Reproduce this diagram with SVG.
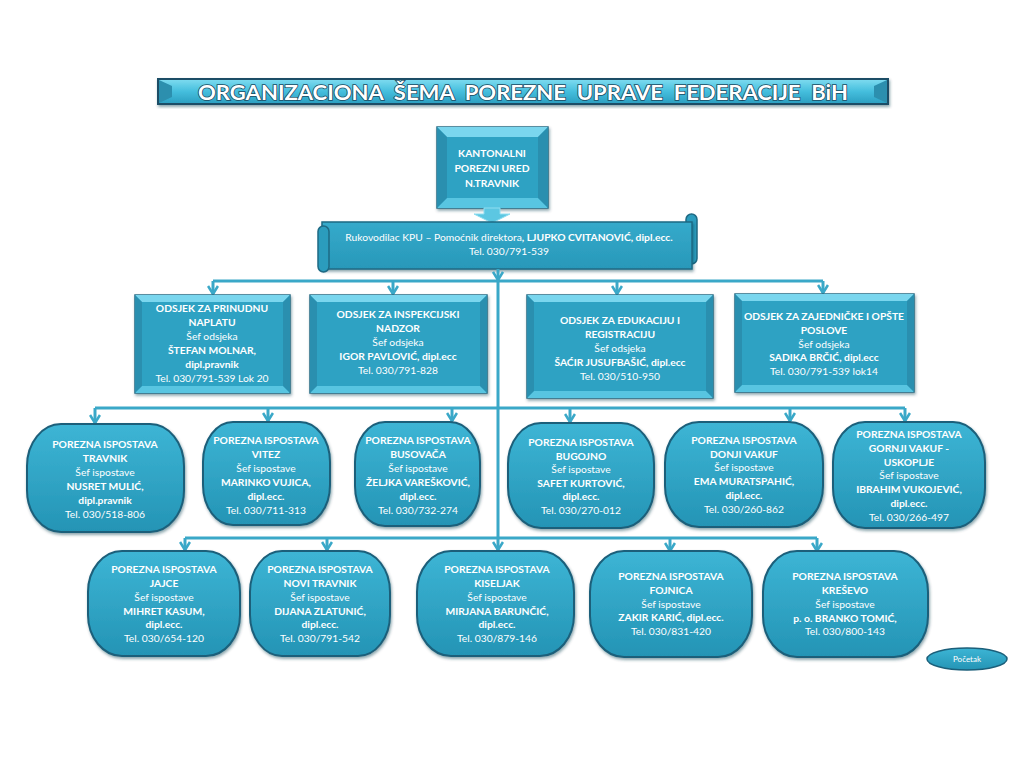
<svg xmlns="http://www.w3.org/2000/svg" width="1024" height="768" viewBox="0 0 1024 768">
<defs>
<linearGradient id="gIsp" x1="0" y1="0" x2="0" y2="1">
<stop offset="0" stop-color="#3DB5D5"/>
<stop offset="1" stop-color="#2494B5"/>
</linearGradient>
<linearGradient id="gTitle" x1="0" y1="0" x2="0" y2="1">
<stop offset="0" stop-color="#7FDCF0"/>
<stop offset="0.5" stop-color="#45BEDD"/>
<stop offset="1" stop-color="#2A9EC0"/>
</linearGradient>
<linearGradient id="gBan" x1="0" y1="0" x2="0" y2="1">
<stop offset="0" stop-color="#35AACB"/>
<stop offset="1" stop-color="#2898B9"/>
</linearGradient>
<marker id="arr" viewBox="0 0 12 12" refX="9" refY="6" markerWidth="12" markerHeight="12" markerUnits="userSpaceOnUse" orient="auto">
<path d="M1,1 L9,6 L1,11" fill="none" stroke="#3AA8C8" stroke-width="2.6" stroke-linejoin="miter"/>
</marker>
<filter id="sh" x="-10%" y="-10%" width="130%" height="130%">
<feDropShadow dx="1" dy="2" stdDeviation="1.5" flood-color="#0c3a4c" flood-opacity="0.45"/>
</filter>
</defs>
<style>
.t{font-family:Lato,"Liberation Sans",sans-serif;font-size:10.3px;fill:#fff;text-anchor:middle}
.b{font-weight:bold}
.isp{fill:url(#gIsp);stroke:#1B5F7A;stroke-width:2}
.bo{fill:#3FB6D6;stroke:#2A6C85;stroke-width:1.5}
.bt{fill:#7AD6EE}
.bb{fill:#58C5E1}
.bs{fill:#2A8FAF}
.bi{fill:#2EA2C3}
.ln{fill:none;stroke:#3AA8C8;stroke-width:3}
.lna{fill:none;stroke:#3AA8C8;stroke-width:3;marker-end:url(#arr)}
</style>
<rect width="1024" height="768" fill="#fff"/>

<g id="title">
<rect x="158" y="79" width="730" height="25" fill="url(#gTitle)" stroke="#1D4E66" stroke-width="2" filter="url(#sh)"/>
<polygon points="159,80 172,86 172,97 159,103" fill="#2C8FAE"/>
<polygon points="887,80 874,86 874,97 887,103" fill="#2C8FAE"/>
<text x="198" y="100" class="t b" xml:space="preserve" style="font-size:21px;text-anchor:start;stroke:#1A4A60;stroke-width:1.6;paint-order:stroke" textLength="650" lengthAdjust="spacingAndGlyphs">ORGANIZACIONA  ŠEMA  POREZNE  UPRAVE  FEDERACIJE  BiH</text>
</g>

<g id="kpu">
<rect x="437" y="127" width="111" height="81" class="bo" filter="url(#sh)"/>
<polygon points="437,127 548,127 538,137 447,137" class="bt"/>
<polygon points="437,208 548,208 538,198 447,198" class="bb"/>
<polygon points="437,127 447,137 447,198 437,208" class="bs"/>
<polygon points="548,127 538,137 538,198 548,208" class="bs"/>
<rect x="447" y="137" width="91" height="61" class="bi"/>
<text class="t b" x="492" y="157">KANTONALNI</text>
<text class="t b" x="492" y="172">POREZNI URED</text>
<text class="t b" x="492" y="187">N.TRAVNIK</text>
<polygon points="484,208 500,208 500,214 510,214 492,223 474,214 484,214" fill="#5CC7E2" stroke="#8EDDF0" stroke-width="1"/>
</g>

<g id="rukovodilac">
<rect x="686" y="214" width="11" height="50" rx="5.5" fill="#2B9CBD" stroke="#1E6A84" stroke-width="1.5"/>
<rect x="322" y="222" width="370" height="47" fill="url(#gBan)" stroke="#1E6A84" stroke-width="1.5" filter="url(#sh)"/>
<rect x="318" y="226" width="11" height="46" rx="5.5" fill="#2B9CBD" stroke="#1E6A84" stroke-width="1.5"/>
<text class="t" x="509" y="241"><tspan>Rukovodilac KPU – Pomoćnik direktora</tspan><tspan class="b">, LJUPKO CVITANOVIĆ, dipl.ecc.</tspan></text>
<text class="t" x="509" y="255">Tel. 030/791-539</text>
</g>

<g id="connectors">
<path class="lna" d="M498,269 V280"/>
<path class="ln" d="M213,281 H823"/>
<path class="lna" d="M213,281 V294"/>
<path class="lna" d="M393,281 V294"/>
<path class="lna" d="M617,281 V294"/>
<path class="lna" d="M823,281 V293"/>
<path class="ln" d="M95,408 H905"/>
<path class="lna" d="M95,408 V423"/>
<path class="lna" d="M268,408 V421"/>
<path class="lna" d="M452,408 V421"/>
<path class="lna" d="M570,408 V422"/>
<path class="lna" d="M790,408 V421"/>
<path class="lna" d="M905,408 V421"/>
<path class="ln" d="M185,538 H817"/>
<path class="lna" d="M498,280 V550"/>
<path class="lna" d="M185,538 V550"/>
<path class="lna" d="M327,538 V550"/>
<path class="lna" d="M670,538 V551"/>
<path class="lna" d="M817,538 V551"/>
</g>

<g id="odsjek-naplata">
<rect x="135" y="295" width="155" height="98" class="bo" filter="url(#sh)"/>
<polygon points="135,295 290,295 283,302 142,302" class="bt"/>
<polygon points="135,393 290,393 283,386 142,386" class="bb"/>
<polygon points="135,295 142,302 142,386 135,393" class="bs"/>
<polygon points="290,295 283,302 283,386 290,393" class="bs"/>
<rect x="142" y="302" width="141" height="84" class="bi"/>
<text class="t b" x="212" y="312">ODSJEK ZA PRINUDNU</text>
<text class="t b" x="212" y="326">NAPLATU</text>
<text class="t" x="212" y="340">Šef odsjeka</text>
<text class="t b" x="212" y="354">ŠTEFAN MOLNAR,</text>
<text class="t b" x="212" y="368">dipl.pravnik</text>
<text class="t" x="212" y="382">Tel. 030/791-539 Lok 20</text>
</g>

<g id="odsjek-inspekcija">
<rect x="310" y="295" width="177" height="98" class="bo" filter="url(#sh)"/>
<polygon points="310,295 487,295 480,302 317,302" class="bt"/>
<polygon points="310,393 487,393 480,386 317,386" class="bb"/>
<polygon points="310,295 317,302 317,386 310,393" class="bs"/>
<polygon points="487,295 480,302 480,386 487,393" class="bs"/>
<rect x="317" y="302" width="163" height="84" class="bi"/>
<text class="t b" x="398" y="318">ODSJEK ZA INSPEKCIJSKI</text>
<text class="t b" x="398" y="332">NADZOR</text>
<text class="t" x="398" y="346">Šef odsjeka</text>
<text class="t b" x="398" y="360">IGOR PAVLOVIĆ, dipl.ecc</text>
<text class="t" x="398" y="374">Tel. 030/791-828</text>
</g>

<g id="odsjek-edukacija">
<rect x="527" y="295" width="186" height="103" class="bo" filter="url(#sh)"/>
<polygon points="527,295 713,295 706,302 534,302" class="bt"/>
<polygon points="527,398 713,398 706,391 534,391" class="bb"/>
<polygon points="527,295 534,302 534,391 527,398" class="bs"/>
<polygon points="713,295 706,302 706,391 713,398" class="bs"/>
<rect x="534" y="302" width="172" height="89" class="bi"/>
<text class="t b" x="620" y="324">ODSJEK ZA EDUKACIJU I</text>
<text class="t b" x="620" y="338">REGISTRACIJU</text>
<text class="t" x="620" y="352">Šef odsjeka</text>
<text class="t b" x="620" y="366">ŠAĆIR JUSUFBAŠIĆ, dipl.ecc</text>
<text class="t" x="620" y="380">Tel. 030/510-950</text>
</g>

<g id="odsjek-zajednicki">
<rect x="735" y="294" width="179" height="98" class="bo" filter="url(#sh)"/>
<polygon points="735,294 914,294 907,301 742,301" class="bt"/>
<polygon points="735,392 914,392 907,385 742,385" class="bb"/>
<polygon points="735,294 742,301 742,385 735,392" class="bs"/>
<polygon points="914,294 907,301 907,385 914,392" class="bs"/>
<rect x="742" y="301" width="165" height="84" class="bi"/>
<text class="t b" x="824" y="320">ODSJEK ZA ZAJEDNIČKE I OPŠTE</text>
<text class="t b" x="824" y="334">POSLOVE</text>
<text class="t" x="824" y="348">Šef odsjeka</text>
<text class="t b" x="824" y="361">SADIKA BRČIĆ, dipl.ecc</text>
<text class="t" x="824" y="375">Tel. 030/791-539 lok14</text>
</g>

<g id="pi-travnik">
<rect x="27" y="424" width="157" height="108" rx="34" ry="42" class="isp" filter="url(#sh)"/>
<text class="t b" x="105" y="448">POREZNA ISPOSTAVA</text>
<text class="t b" x="105" y="462">TRAVNIK</text>
<text class="t" x="105" y="476">Šef ispostave</text>
<text class="t b" x="105" y="490">NUSRET MULIĆ,</text>
<text class="t b" x="105" y="504">dipl.pravnik</text>
<text class="t" x="105" y="518">Tel. 030/518-806</text>
</g>

<g id="pi-vitez">
<rect x="203" y="422" width="127" height="103" rx="30" ry="40" class="isp" filter="url(#sh)"/>
<text class="t b" x="266" y="444">POREZNA ISPOSTAVA</text>
<text class="t b" x="266" y="458">VITEZ</text>
<text class="t" x="266" y="472">Šef ispostave</text>
<text class="t b" x="266" y="486">MARINKO VUJICA,</text>
<text class="t b" x="266" y="500">dipl.ecc.</text>
<text class="t" x="266" y="514">Tel. 030/711-313</text>
</g>

<g id="pi-busovaca">
<rect x="355" y="422" width="125" height="104" rx="30" ry="40" class="isp" filter="url(#sh)"/>
<text class="t b" x="418" y="444">POREZNA ISPOSTAVA</text>
<text class="t b" x="418" y="458">BUSOVAČA</text>
<text class="t" x="418" y="472">Šef ispostave</text>
<text class="t b" x="418" y="486">ŽELJKA VAREŠKOVIĆ,</text>
<text class="t b" x="418" y="500">dipl.ecc.</text>
<text class="t" x="418" y="514">Tel. 030/732-274</text>
</g>

<g id="pi-bugojno">
<rect x="508" y="423" width="146" height="105" rx="33" ry="41" class="isp" filter="url(#sh)"/>
<text class="t b" x="581" y="446">POREZNA ISPOSTAVA</text>
<text class="t b" x="581" y="460">BUGOJNO</text>
<text class="t" x="581" y="473">Šef ispostave</text>
<text class="t b" x="581" y="487">SAFET KURTOVIĆ,</text>
<text class="t b" x="581" y="500">dipl.ecc.</text>
<text class="t" x="581" y="514">Tel. 030/270-012</text>
</g>

<g id="pi-donji-vakuf">
<rect x="665" y="422" width="158" height="105" rx="34" ry="41" class="isp" filter="url(#sh)"/>
<text class="t b" x="744" y="444">POREZNA ISPOSTAVA</text>
<text class="t b" x="744" y="458">DONJI VAKUF</text>
<text class="t" x="744" y="471">Šef ispostave</text>
<text class="t b" x="744" y="485">EMA MURATSPAHIĆ,</text>
<text class="t b" x="744" y="499">dipl.ecc.</text>
<text class="t" x="744" y="513">Tel. 030/260-862</text>
</g>

<g id="pi-gornji-vakuf">
<rect x="833" y="422" width="152" height="106" rx="32" ry="40" class="isp" filter="url(#sh)"/>
<text class="t b" x="909" y="438">POREZNA ISPOSTAVA</text>
<text class="t b" x="909" y="452">GORNJI VAKUF -</text>
<text class="t b" x="909" y="466">USKOPLJE</text>
<text class="t" x="909" y="479">Šef ispostave</text>
<text class="t b" x="909" y="493">IBRAHIM VUKOJEVIĆ,</text>
<text class="t b" x="909" y="507">dipl.ecc.</text>
<text class="t" x="909" y="521">Tel. 030/266-497</text>
</g>

<g id="pi-jajce">
<rect x="88" y="551" width="152" height="105" rx="34" ry="41" class="isp" filter="url(#sh)"/>
<text class="t b" x="164" y="573">POREZNA ISPOSTAVA</text>
<text class="t b" x="164" y="587">JAJCE</text>
<text class="t" x="164" y="601">Šef ispostave</text>
<text class="t b" x="164" y="615">MIHRET KASUM,</text>
<text class="t b" x="164" y="628">dipl.ecc.</text>
<text class="t" x="164" y="642">Tel. 030/654-120</text>
</g>

<g id="pi-novi-travnik">
<rect x="250" y="551" width="140" height="105" rx="32" ry="41" class="isp" filter="url(#sh)"/>
<text class="t b" x="320" y="573">POREZNA ISPOSTAVA</text>
<text class="t b" x="320" y="587">NOVI TRAVNIK</text>
<text class="t" x="320" y="601">Šef ispostave</text>
<text class="t b" x="320" y="615">DIJANA ZLATUNIĆ,</text>
<text class="t b" x="320" y="628">dipl.ecc.</text>
<text class="t" x="320" y="642">Tel. 030/791-542</text>
</g>

<g id="pi-kiseljak">
<rect x="417" y="551" width="157" height="105" rx="34" ry="41" class="isp" filter="url(#sh)"/>
<text class="t b" x="497" y="573">POREZNA ISPOSTAVA</text>
<text class="t b" x="497" y="587">KISELJAK</text>
<text class="t" x="497" y="601">Šef ispostave</text>
<text class="t b" x="497" y="615">MIRJANA BARUNČIĆ,</text>
<text class="t b" x="497" y="628">dipl.ecc.</text>
<text class="t" x="497" y="642">Tel. 030/879-146</text>
</g>

<g id="pi-fojnica">
<rect x="590" y="551" width="162" height="106" rx="34" ry="41" class="isp" filter="url(#sh)"/>
<text class="t b" x="671" y="580">POREZNA ISPOSTAVA</text>
<text class="t b" x="671" y="594">FOJNICA</text>
<text class="t" x="671" y="608">Šef ispostave</text>
<text class="t b" x="671" y="621">ZAKIR KARIĆ, dipl.ecc.</text>
<text class="t" x="671" y="635">Tel. 030/831-420</text>
</g>

<g id="pi-kresevo">
<rect x="763" y="551" width="165" height="106" rx="34" ry="41" class="isp" filter="url(#sh)"/>
<text class="t b" x="845" y="580">POREZNA ISPOSTAVA</text>
<text class="t b" x="845" y="594">KREŠEVO</text>
<text class="t" x="845" y="608">Šef ispostave</text>
<text class="t b" x="845" y="622">p. o. BRANKO TOMIĆ,</text>
<text class="t" x="845" y="635">Tel. 030/800-143</text>
</g>

<g id="pocetak">
<ellipse cx="967" cy="659" rx="40" ry="11" fill="url(#gIsp)" stroke="#1B5F7A" stroke-width="1.5"/>
<text class="t" x="967" y="662" style="font-size:8px">Početak</text>
</g>
</svg>
